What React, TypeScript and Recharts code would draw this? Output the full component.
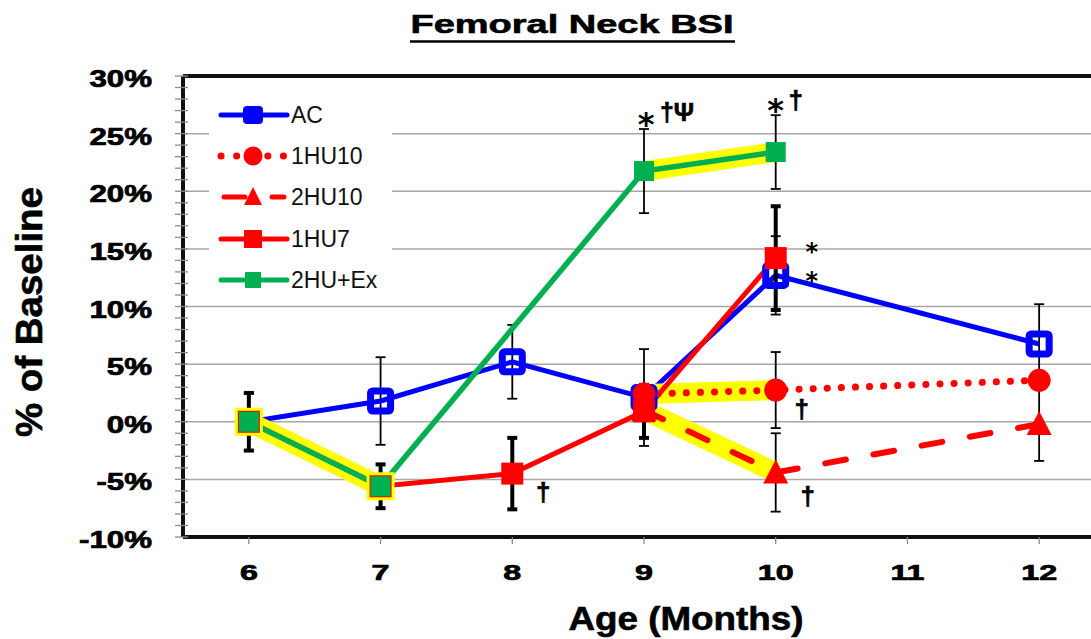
import React from 'react';
import { LineChart, Line, XAxis, YAxis, ErrorBar, ReferenceLine, Legend, LabelList } from 'recharts';

// ---------------- data ----------------
const ages = [6, 7, 8, 9, 10, 11, 12];

const acValues = [0, 1.8, 5.2, 2.1, 12.7, null, 6.75];
const acErrors = [2.5, 3.8, 3.2, 4.2, 3.4, null, 3.45];

const hu1x10Values = [null, null, null, 2.4, 2.75, null, 3.6];
const hu1x10Errors = [null, null, null, null, 3.3, null, null];

const hu2x10Values = [null, null, null, 1.0, -4.4, null, -0.2];
const hu2x10Errors = [null, null, null, null, 3.4, null, 3.2];

const hu1x7Values = [0, -5.6, -4.5, 0.9, 14.2, null, null];
const hu1x7Errors = [2.5, 1.9, 3.1, 2.3, 4.5, null, null];

const huExValues = [0, -5.6, null, 21.75, 23.4, null, null];
const huExErrors = [null, null, null, 3.65, 3.2, null, null];

// highlighted (yellow) segments, by index into ages
const huExHighlight = [0, 1, 3, 4];
const hu1x10Highlight = [3, 4];
const hu2x10Highlight = [3, 4];

// significance marks
const huExMarks = ['', '', '', '*†Ψ', '*†', '', ''];
const hu1x7Marks = ['', '', '†', '', '**', '', ''];
const hu1x10Marks = ['', '', '', '', '†', '', ''];
const hu2x10Marks = ['', '', '', '', '†', '', ''];

const yAllTicks = Array.from({ length: 41 }, (_, i) => i - 10);
const gridValues = [-5, 0, 5, 10, 15, 20, 25];

const seriesNames = ['AC', '1HU10', '2HU10', '1HU7', '2HU+Ex'];
const titleText = 'Femoral Neck BSI';
const xTitle = 'Age (Months)';
const yTitle = '% of Baseline';

const data = ages.map((age, i) => ({
  age,
  ac: acValues[i],
  acErr: acErrors[i],
  hu1x10: hu1x10Values[i],
  hu1x10Err: hu1x10Errors[i],
  hu1x10Mark: hu1x10Marks[i],
  hu2x10: hu2x10Values[i],
  hu2x10Err: hu2x10Errors[i],
  hu2x10Mark: hu2x10Marks[i],
  hu1x7: hu1x7Values[i],
  hu1x7Err: hu1x7Errors[i],
  hu1x7Mark: hu1x7Marks[i],
  huEx: huExValues[i],
  huExErr: huExErrors[i],
  huExMark: huExMarks[i],
  hlEx: huExHighlight.includes(i) ? huExValues[i] : null,
  hl1x10: hu1x10Highlight.includes(i) ? hu1x10Values[i] : null,
  hl2x10: hu2x10Highlight.includes(i) ? hu2x10Values[i] : null,
}));

// ---------------- styles ----------------
const FONT = '"Liberation Sans", Arial, Helvetica, sans-serif';
const STAR_FONT = '"DejaVu Sans", sans-serif';
const BLUE = '#0000FF';
const RED = '#FF0000';
const GREEN = '#00B050';
const YELLOW = '#FFFF00';

const W = 1110;
const H = 639;

// ---------------- markers ----------------
const ok = (p: any) => p && Number.isFinite(p.cx) && Number.isFinite(p.cy) && p.value != null;

const acDot = (p: any) => {
  if (!ok(p)) return <g key={`ac-${p.index}`} />;
  return (
    <rect key={`ac-${p.index}`} x={p.cx - 10} y={p.cy - 10} width={20} height={20} rx={2}
      fill="none" stroke={BLUE} strokeWidth={7} />
  );
};
const circleDot = (p: any) => {
  if (!ok(p)) return <g key={`c-${p.index}`} />;
  return <circle key={`c-${p.index}`} cx={p.cx} cy={p.cy} r={11.5} fill={RED} />;
};
const triDot = (p: any) => {
  if (!ok(p)) return <g key={`t-${p.index}`} />;
  const { cx, cy } = p;
  return <polygon key={`t-${p.index}`} points={`${cx},${cy - 13} ${cx - 12.5},${cy + 11} ${cx + 12.5},${cy + 11}`} fill={RED} />;
};
const redSquareDot = (p: any) => {
  if (!ok(p)) return <g key={`r-${p.index}`} />;
  return <rect key={`r-${p.index}`} x={p.cx - 11} y={p.cy - 11} width={22} height={22} fill={RED} />;
};
const greenSquareDot = (p: any) => {
  if (!ok(p)) return <g key={`g-${p.index}`} />;
  return <rect key={`g-${p.index}`} x={p.cx - 10} y={p.cy - 10} width={20} height={20} fill={GREEN} />;
};
const yellowSquareDot = (p: any) => {
  if (!ok(p) || p.index > 1) return <g key={`y-${p.index}`} />;
  return <rect key={`y-${p.index}`} x={p.cx - 14} y={p.cy - 14} width={28} height={28} fill={YELLOW} />;
};

// ---------------- annotation text ----------------
const Star = ({ cx, cy, size = 30 }: { cx: number; cy: number; size?: number }) => (
  <text x={cx} y={cy + size * 0.56} textAnchor="middle" fontFamily={STAR_FONT} fontWeight="bold" fontSize={size} fill="#000">*</text>
);
const Dagger = ({ cx, cy, size, text }: { cx: number; cy: number; size: number; text: string }) => (
  <text x={cx} y={cy + size * 0.3} textAnchor="middle" fontFamily={FONT} fontWeight="bold" fontSize={size}
    fill="#000" stroke="#000" strokeWidth={0.6}>{text}</text>
);

const pt = (props: any) => {
  const vb = props.viewBox || {};
  return { x: props.x ?? vb.x, y: props.y ?? vb.y };
};

const exMarkLabel = (props: any) => {
  const v = props.value;
  if (!v) return null;
  const { x, y } = pt(props);
  const rest = v.slice(1);
  const big = rest.length > 1;
  return (
    <g>
      <Star cx={x + (big ? 2 : 0)} cy={y + (big ? -54 : -49)} size={32} />
      <Dagger cx={x + (big ? 33 : 20)} cy={y + (big ? -58 : -51)} size={big ? 25 : 26} text={rest} />
    </g>
  );
};

const rightMarkLabel = (dx: number, dy: number) => (props: any) => {
  const v = props.value;
  if (!v) return null;
  const { x, y } = pt(props);
  if (/^\*+$/.test(v)) {
    return (
      <g>
        {v.split('').map((_: string, k: number) => (
          <Star key={k} cx={x + 36} cy={y - 12 + 29 * k} size={24} />
        ))}
      </g>
    );
  }
  return <Dagger cx={x + dx} cy={y + dy} size={26} text={v} />;
};

// ---------------- axes ----------------
const YTick = (props: any) => {
  const { x, y, payload } = props;
  const v = payload.value;
  const major = v % 5 === 0;
  return (
    <g>
      <line x1={x - 8} x2={x + 5} y1={y} y2={y} stroke="#8C8C8C" strokeWidth={1.3} />
      {major && (
        <text transform={`translate(${x - 31},${y + 11}) scale(1.36,1)`} textAnchor="end"
          fontFamily={FONT} fontWeight="bold" fontSize={23} fill="#000" stroke="#000" strokeWidth={0.7}>{`${v}%`}</text>
      )}
    </g>
  );
};

const XTick = (props: any) => {
  const { x, y, payload } = props;
  return (
    <text transform={`translate(${x},${y + 34}) scale(1.5,1)`} textAnchor="middle"
      fontFamily={FONT} fontWeight="bold" fontSize={21.5} fill="#000" stroke="#000" strokeWidth={0.7}>{payload.value}</text>
  );
};

const XTitleLabel = () => (
  <text x={686} y={630} textAnchor="middle" fontFamily={FONT} fontWeight="bold" fontSize={33}
    textLength={235} lengthAdjust="spacingAndGlyphs" fill="#000" stroke="#000" strokeWidth={0.6}>{xTitle}</text>
);

const YTitleLabel = () => (
  <text transform="translate(42,312) rotate(-90)" textAnchor="middle" fontFamily={FONT} fontWeight="bold"
    fontSize={36} textLength={250} lengthAdjust="spacingAndGlyphs" fill="#000" stroke="#000" strokeWidth={0.6}>{yTitle}</text>
);

const TitleLabel = () => (
  <g>
    <text x={572} y={33} textAnchor="middle" fontFamily={FONT} fontWeight="bold" fontSize={25}
      textLength={323} lengthAdjust="spacingAndGlyphs" fill="#000" stroke="#000" strokeWidth={0.6}>{titleText}</text>
    <line x1={410} x2={735} y1={41.5} y2={41.5} stroke="#000" strokeWidth={2.5} />
  </g>
);

// ---------------- legend ----------------
const LegendBox = () => {
  const rowY = [27, 68, 109, 151, 192];
  const lx1 = 12, lx2 = 78, mx = 44, tx = 82;
  const markers = [
    <rect x={mx - 8} y={rowY[0] - 7} width={16} height={14} rx={2} fill={BLUE} stroke={BLUE} strokeWidth={4} />,
    <circle cx={mx} cy={rowY[1]} r={9.5} fill={RED} />,
    <polygon points={`${mx},${rowY[2] - 10} ${mx - 9},${rowY[2] + 8} ${mx + 9},${rowY[2] + 8}`} fill={RED} />,
    <rect x={mx - 9} y={rowY[3] - 9} width={18} height={18} fill={RED} />,
    <rect x={mx - 8} y={rowY[4] - 8} width={16} height={16} fill={GREEN} />,
  ];
  const lines = [
    <line x1={lx1} x2={lx2} y1={rowY[0]} y2={rowY[0]} stroke={BLUE} strokeWidth={5} strokeLinecap="round" />,
    <line x1={lx1} x2={lx2 + 2} y1={rowY[1]} y2={rowY[1]} stroke={RED} strokeWidth={7} strokeLinecap="round" strokeDasharray="0.1 15.5" />,
    <line x1={lx1 + 3} x2={lx2 - 3} y1={rowY[2]} y2={rowY[2]} stroke={RED} strokeWidth={5} strokeLinecap="round" strokeDasharray="21 27" />,
    <line x1={lx1} x2={lx2} y1={rowY[3]} y2={rowY[3]} stroke={RED} strokeWidth={5} strokeLinecap="round" />,
    <line x1={lx1} x2={lx2} y1={rowY[4]} y2={rowY[4]} stroke={GREEN} strokeWidth={5} strokeLinecap="round" />,
  ];
  return (
    <svg width={183} height={216} style={{ display: 'block' }}>
      <rect x={0} y={0} width={183} height={216} fill="#fff" />
      {seriesNames.map((name, i) => (
        <g key={name}>
          {lines[i]}
          {markers[i]}
          <text x={tx} y={rowY[i] + 8} fontFamily={FONT} fontSize={23} fill="#111">{name}</text>
        </g>
      ))}
    </svg>
  );
};

export default function App() {
  return (
    <div style={{ position: 'fixed', left: 0, top: 0, width: 1091, height: 639, overflow: 'hidden', background: '#fff' }}>
      <LineChart width={W} height={H} data={data} margin={{ top: 76, right: 5, bottom: 42, left: 63 }}>
        {gridValues.map((v) => (
          <ReferenceLine key={v} y={v} stroke="#A6A6A6" strokeWidth={1.5} />
        ))}
        <ReferenceLine y={30} stroke="#111" strokeWidth={4} label={TitleLabel} />
        <XAxis type="number" dataKey="age" domain={[5.5, 12.5]} ticks={ages} interval={0}
          axisLine={{ stroke: '#111', strokeWidth: 4 }} tickLine={{ stroke: '#8C8C8C', strokeWidth: 1.3 }}
          tickSize={7} height={60} tick={XTick} label={XTitleLabel} />
        <YAxis type="number" domain={[-10, 30]} ticks={yAllTicks} interval={0} width={120}
          axisLine={{ stroke: '#111', strokeWidth: 4 }} tickLine={false} tickSize={0} tickMargin={0}
          tick={YTick} label={YTitleLabel} allowDataOverflow />

        <Line dataKey="ac" type="linear" stroke={BLUE} strokeWidth={5} connectNulls dot={acDot}
          activeDot={false} isAnimationActive={false}>
          <ErrorBar dataKey="acErr" width={5} strokeWidth={1.8} stroke="#000" direction="y" />
        </Line>

        <Line dataKey="hlEx" type="linear" stroke={YELLOW} strokeWidth={20} dot={yellowSquareDot}
          activeDot={false} isAnimationActive={false} legendType="none" />
        <Line dataKey="hl1x10" type="linear" stroke={YELLOW} strokeWidth={20} dot={false}
          activeDot={false} isAnimationActive={false} legendType="none" />
        <Line dataKey="hl2x10" type="linear" stroke={YELLOW} strokeWidth={20} dot={false}
          activeDot={false} isAnimationActive={false} legendType="none" />

        <Line dataKey="hu1x10" type="linear" stroke={RED} strokeWidth={7} strokeLinecap="round"
          strokeDasharray="0.1 14" connectNulls dot={circleDot} activeDot={false} isAnimationActive={false}>
          <ErrorBar dataKey="hu1x10Err" width={5} strokeWidth={1.8} stroke="#000" direction="y" />
          <LabelList dataKey="hu1x10Mark" content={rightMarkLabel(26, 20)} />
        </Line>

        <Line dataKey="hu2x10" type="linear" stroke={RED} strokeWidth={6} strokeLinecap="round"
          strokeDasharray="21 28" connectNulls dot={triDot} activeDot={false} isAnimationActive={false}>
          <ErrorBar dataKey="hu2x10Err" width={5} strokeWidth={1.8} stroke="#000" direction="y" />
          <LabelList dataKey="hu2x10Mark" content={rightMarkLabel(32, 25)} />
        </Line>

        <Line dataKey="hu1x7" type="linear" stroke={RED} strokeWidth={5} connectNulls dot={redSquareDot}
          activeDot={false} isAnimationActive={false}>
          <ErrorBar dataKey="hu1x7Err" width={5} strokeWidth={4} stroke="#000" direction="y" />
          <LabelList dataKey="hu1x7Mark" content={rightMarkLabel(31, 20)} />
        </Line>

        <Line dataKey="huEx" type="linear" stroke={GREEN} strokeWidth={5.5} connectNulls dot={greenSquareDot}
          activeDot={false} isAnimationActive={false}>
          <ErrorBar dataKey="huExErr" width={5} strokeWidth={1.8} stroke="#000" direction="y" />
          <LabelList dataKey="huExMark" content={exMarkLabel} />
        </Line>

        <Legend layout="vertical" align="center" verticalAlign="middle" content={LegendBox}
          wrapperStyle={{ position: 'absolute', left: 209, top: 88, width: 183, height: 216 }} />
      </LineChart>
    </div>
  );
}
